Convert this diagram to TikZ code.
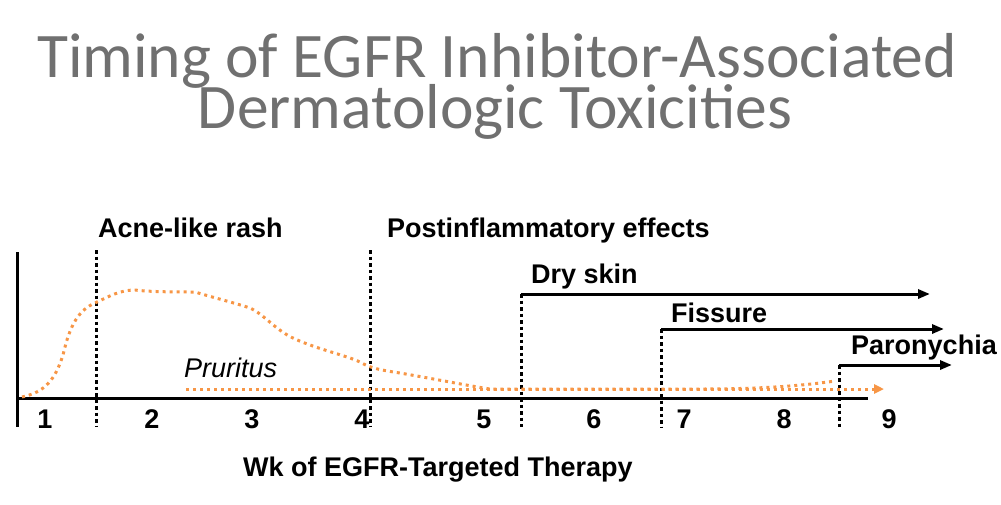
\documentclass[tikz,border=0pt]{standalone}
\usepackage{fontspec}
\setmainfont{Liberation Sans}
\newfontfamily\titlefont{Carlito}
\usetikzlibrary{arrows.meta}
\definecolor{titlegrey}{RGB}{112,112,112}
\definecolor{curveorange}{RGB}{247,150,70}
\tikzset{
  titletext/.style={titlegrey,font=\titlefont\fontsize{63.5}{52}\selectfont,anchor=base,inner sep=0pt},
  axisline/.style={line width=3pt,black},
  weekdiv/.style={line width=3pt,black,dash pattern=on 3.5pt off 3pt},
  onsetarrow/.style={line width=3pt,black,-{Triangle[length=12pt,width=9pt]}},
  orangedots/.style={line width=3pt,curveorange,dash pattern=on 3pt off 4pt},
  lbl/.style={font=\fontsize{27}{30}\selectfont\bfseries,anchor=base west,inner sep=0pt},
  wk/.style={font=\fontsize{27}{30}\selectfont\bfseries,anchor=base,inner sep=0pt},
}
\begin{document}
\begin{tikzpicture}[x=1pt,y=-1pt]
\useasboundingbox (0,0) rectangle (1001,504);
% title
\node[titletext] (title1) at (497,77) {Timing of EGFR Inhibitor-Associated};
\node[titletext] (title2) at (495,128) {Dermatologic Toxicities};
% axes
\coordinate (yTop) at (17,252);
\coordinate (origin) at (17,398);
\coordinate (yBot) at (17,427);
\coordinate (xEnd) at (868,398);
\draw[axisline] (yTop) -- (yBot);
\draw[axisline] (origin) -- (xEnd);
% week dividers
\coordinate (d1t) at (96,250);  \coordinate (d1b) at (96,427);
\coordinate (d2t) at (370,250); \coordinate (d2b) at (370,427);
\coordinate (d3t) at (521,294); \coordinate (d3b) at (521,427);
\coordinate (d4t) at (661,329); \coordinate (d4b) at (661,427);
\coordinate (d5t) at (839,365); \coordinate (d5b) at (839,427);
\draw[weekdiv] (d1t) -- (d1b);
\draw[weekdiv] (d2t) -- (d2b);
\draw[weekdiv] (d3t) -- (d3b);
\draw[weekdiv] (d4t) -- (d4b);
\draw[weekdiv] (d5t) -- (d5b);
% onset arrows
\coordinate (a3) at (930,294);
\coordinate (a4) at (944,329);
\coordinate (a5) at (952,365);
\draw[onsetarrow] (d3t) -- (a3);
\draw[onsetarrow] (d4t) -- (a4);
\draw[onsetarrow] (d5t) -- (a5);
% labels
\node[lbl] (acne) at (98,237) {Acne-like rash};
\node[lbl] (post) at (387,237) {Postinflammatory effects};
\node[lbl] (dry) at (531,283) {Dry skin};
\node[lbl] (fis) at (671,322) {Fissure};
\node[lbl] (par) at (851,354) {Paronychia};
% pruritus
\node[font=\fontsize{27}{30}\selectfont\itshape,anchor=base west,inner sep=0pt] (prur) at (184,377) {Pruritus};
\coordinate (pStart) at (186,389);
\coordinate (pEnd) at (884,389);
\draw[orangedots,-{Triangle[length=10pt,width=9pt]}] (pStart) -- (pEnd);
% acne curve
\coordinate (c0) at (22,397);
\draw[orangedots] (c0) .. controls (45,392) and (55,380) .. (63,355)
  .. controls (70,325) and (78,310) .. (97,302)
  .. controls (110,296) and (120,290) .. (135,290)
  .. controls (150,292) and (180,292) .. (195,292)
  .. controls (215,298) and (235,303) .. (250,308)
  .. controls (265,315) and (275,330) .. (295,339)
  .. controls (320,350) and (345,355) .. (360,362)
  .. controls (370,368) and (380,370) .. (400,373)
  .. controls (440,380) and (470,386) .. (490,389)
  -- (700,389) .. controls (760,389) and (800,386) .. (835,381);
% week numbers
\node[wk] (w1) at (45,428) {1};
\node[wk] (w2) at (152,428) {2};
\node[wk] (w3) at (252,428) {3};
\node[wk] (w4) at (362,428) {4};
\node[wk] (w5) at (484,428) {5};
\node[wk] (w6) at (594,428) {6};
\node[wk] (w7) at (684,428) {7};
\node[wk] (w8) at (784,428) {8};
\node[wk] (w9) at (889,428) {9};
\node[font=\fontsize{27}{30}\selectfont\bfseries,anchor=base west,inner sep=0pt] (xlabel) at (243,476) {Wk of EGFR-Targeted Therapy};
\end{tikzpicture}
\end{document}
